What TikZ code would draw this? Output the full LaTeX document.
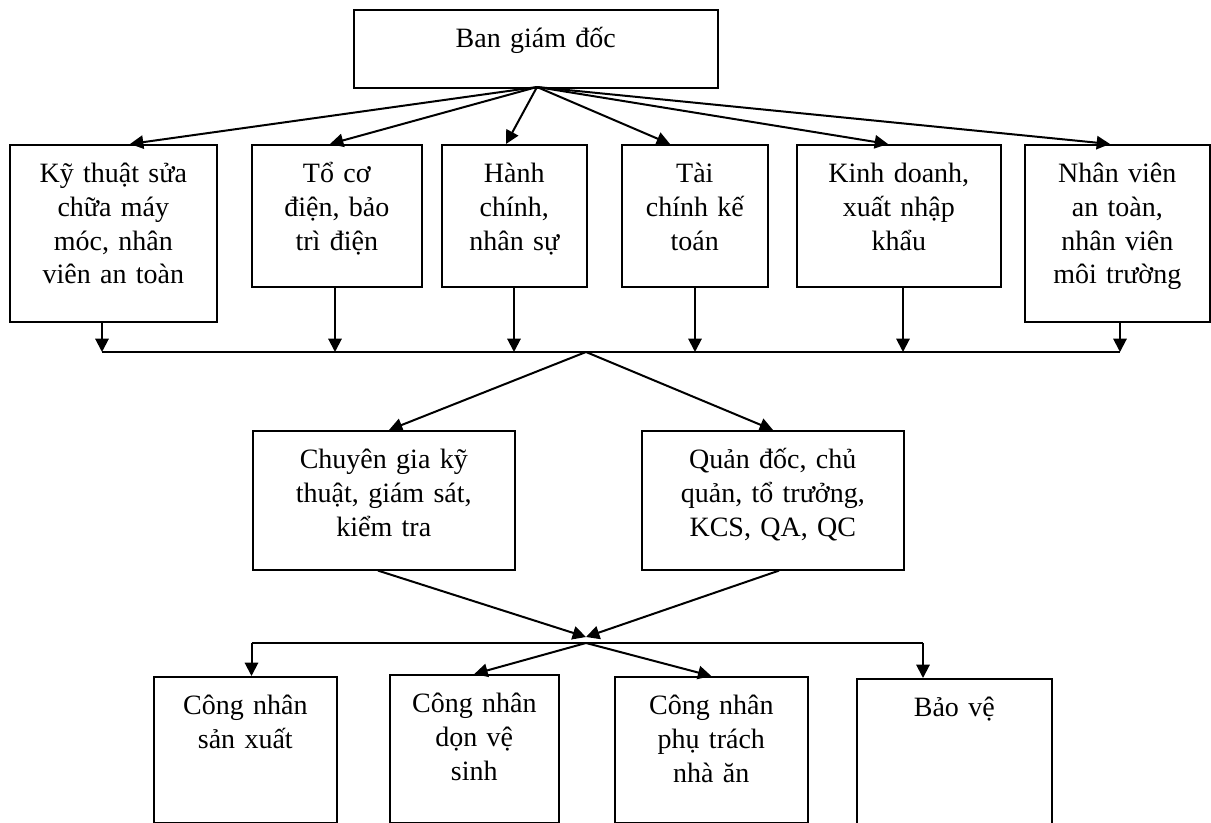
\documentclass[tikz,border=0pt]{standalone}
\usepackage{fontspec}
\setmainfont{Liberation Serif}
\usetikzlibrary{arrows.meta}

\begin{document}
\begin{tikzpicture}[x=0.75pt, y=-0.75pt,
    every node/.style={font=\fontsize{21pt}{25.3pt}\selectfont},
    unit/.style={draw, line width=1.2pt, anchor=north west, inner sep=0pt, align=center, text height=28.5pt},
    arr/.style={line width=1.5pt, -{Triangle[length=10pt, width=10pt]}}]
    \useasboundingbox (0,0) rectangle (1211,823);
    % top
    \node[unit, minimum width=273pt, text width=265pt, text depth=30pt] (gd) at (353,9) {Ban giám đốc};
    % departments
    \node[unit, minimum width=155.25pt, text width=150pt, text depth=104.25pt] (kt) at (9,144) {Kỹ thuật sửa\\chữa máy\\móc, nhân\\viên an toàn};
    \node[unit, minimum width=127.5pt, text width=122pt, text depth=78pt] (cd) at (251,144) {Tổ cơ\\điện, bảo\\trì điện};
    \node[unit, minimum width=108.75pt, text width=104pt, text depth=78pt] (hc) at (441,144) {Hành\\chính,\\nhân sự};
    \node[unit, minimum width=109.5pt, text width=104pt, text depth=78pt] (tc) at (621,144) {Tài\\chính kế\\toán};
    \node[unit, minimum width=153pt, text width=148pt, text depth=78pt] (kd) at (796,144) {Kinh doanh,\\xuất nhập\\khẩu};
    \node[unit, minimum width=138.75pt, text width=134pt, text depth=104.25pt] (nv) at (1024,144) {Nhân viên\\an toàn,\\nhân viên\\môi trường};
    % middle
    \node[unit, minimum width=196.5pt, text width=190pt, text depth=75.75pt] (cg) at (252,430) {Chuyên gia kỹ\\thuật, giám sát,\\kiểm tra};
    \node[unit, minimum width=196.5pt, text width=190pt, text depth=75.75pt] (qd) at (641,430) {Quản đốc, chủ\\quản, tổ trưởng,\\KCS, QA, QC};
    % workers
    \node[unit, minimum width=137.25pt, text width=132pt, text depth=81pt] (sx) at (153,676) {Công nhân\\sản xuất};
    \node[unit, minimum width=126.75pt, text width=121pt, text depth=82.5pt] (vs) at (389,674) {Công nhân\\dọn vệ\\sinh};
    \node[unit, minimum width=144.75pt, text width=139pt, text depth=81pt] (na) at (614,676) {Công nhân\\phụ trách\\nhà ăn};
    \node[unit, minimum width=146.25pt, text width=140pt, text depth=85.5pt] (bv) at (856,678) {Bảo vệ};

    \coordinate (gdf) at (537,87);
    \coordinate (busL) at (102,352);
    \coordinate (busR) at (1120,352);
    \coordinate (fork) at (586,352);
    \coordinate (join) at (586,637);
    \coordinate (bus2) at (586,643);
    \coordinate (bus2L) at (251.5,643);
    \coordinate (bus2R) at (923,643);

    \draw[arr] (gdf) -- (kt.north -| 130,0);
    \draw[arr] (gdf) -- (cd.north -| 330,0);
    \draw[arr] (gdf) -- (hc.north -| 506,0);
    \draw[arr] (gdf) -- (tc.north -| 670,0);
    \draw[arr] (gdf) -- (kd.north -| 888,0);
    \draw[arr] (gdf) -- (nv.north -| 1110,0);

    \draw[line width=1.5pt] (busL) -- (busR);
    \draw[arr] (kt.south -| busL) -- (busL);
    \draw[arr] (cd.south -| 335,0) -- (busL -| 335,0);
    \draw[arr] (hc.south -| 514,0) -- (busL -| 514,0);
    \draw[arr] (tc.south -| 695,0) -- (busL -| 695,0);
    \draw[arr] (kd.south -| 903,0) -- (busL -| 903,0);
    \draw[arr] (nv.south -| busR) -- (busR);

    \draw[arr] (fork) -- (cg.north -| 389,0);
    \draw[arr] (fork) -- (qd.north -| 773,0);

    \draw[arr] (cg.south -| 378,0) -- (join);
    \draw[arr] (qd.south -| 779,0) -- (join);

    \draw[line width=1.5pt] (bus2L) -- (bus2R);
    \draw[arr] (bus2L) -- (sx.north -| bus2L);
    \draw[arr] (bus2R) -- (bv.north -| bus2R);
    \draw[arr] (bus2) -- (vs.north);
    \draw[arr] (bus2) -- (na.north);
\end{tikzpicture}
\end{document}
